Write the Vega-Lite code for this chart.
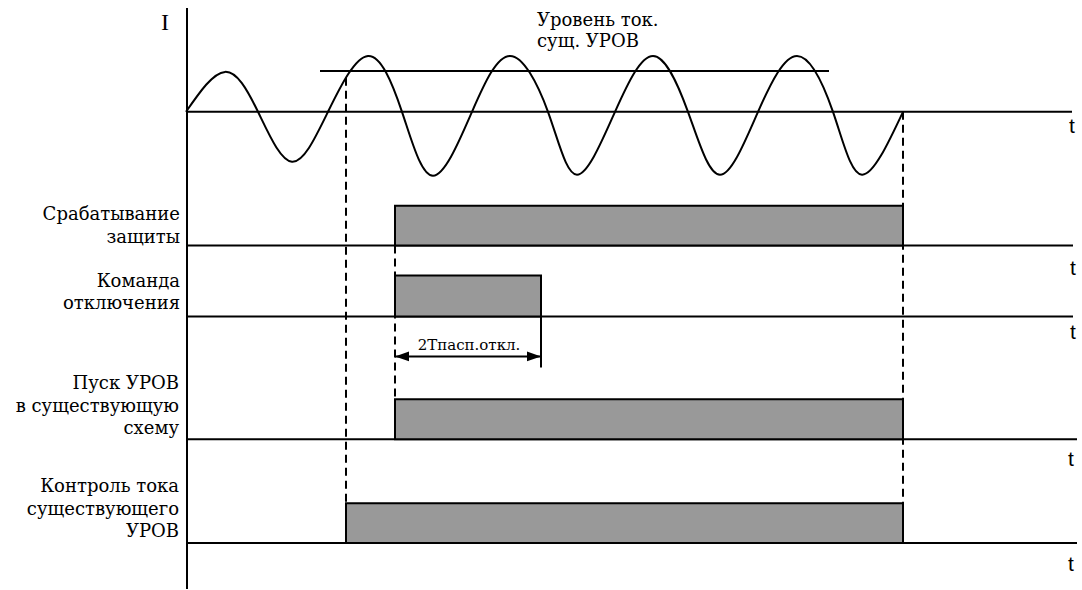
{
  "$schema": "https://vega.github.io/schema/vega-lite/v6.json",
  "width": 1082,
  "height": 590,
  "autosize": {"type": "fit", "contains": "padding"},
  "padding": 0,
  "background": "white",
  "config": {"view": {"stroke": null}},
  "datasets": {
    "axisV": [{"x": 187, "y": 8, "y2": 590}],
    "hlines": [
      {"x": 186, "x2": 1072, "y": 112},
      {"x": 186, "x2": 1073, "y": 246},
      {"x": 186, "x2": 1073, "y": 317},
      {"x": 186, "x2": 1077, "y": 440},
      {"x": 186, "x2": 1077, "y": 544}
    ],
    "level": [{"x": 320, "x2": 829, "y": 71}],
    "dashed": [
      {"x": 346, "y": 78, "y2": 504},
      {"x": 903, "y": 112, "y2": 504},
      {"x": 395, "y": 246, "y2": 400}
    ],
    "bars": [
      {"signal": "Срабатывание защиты", "x": 395, "x2": 903, "y": 206, "y2": 246},
      {"signal": "Команда отключения", "x": 395, "x2": 541, "y": 276, "y2": 317},
      {"signal": "Пуск УРОВ", "x": 395, "x2": 903, "y": 400, "y2": 440},
      {"signal": "Контроль тока", "x": 346, "x2": 903, "y": 504, "y2": 544}
    ],
    "wave": [
      {"x": 186, "y": 112}, {"x": 225, "y": 72}, {"x": 258, "y": 112}, {"x": 292, "y": 162},
      {"x": 328, "y": 112}, {"x": 368, "y": 56}, {"x": 402, "y": 112}, {"x": 433, "y": 176},
      {"x": 472, "y": 112}, {"x": 510, "y": 56}, {"x": 548, "y": 112}, {"x": 577, "y": 175},
      {"x": 615, "y": 112}, {"x": 653, "y": 56}, {"x": 688, "y": 112}, {"x": 720, "y": 175},
      {"x": 758, "y": 112}, {"x": 797, "y": 56}, {"x": 833, "y": 112}, {"x": 862, "y": 175},
      {"x": 903, "y": 112}
    ],
    "span": [{"x": 395, "x2": 541, "y": 357}],
    "tick": [{"x": 541, "y": 317, "y2": 368}],
    "arrowL": [{"x": 395, "y": 357}],
    "arrowR": [{"x": 541, "y": 357}],
    "labels": [
      {"x": 180, "y": 220, "text": "Срабатывание"},
      {"x": 180, "y": 243, "text": "защиты"},
      {"x": 180, "y": 287, "text": "Команда"},
      {"x": 180, "y": 310, "text": "отключения"},
      {"x": 179, "y": 390, "text": "Пуск УРОВ"},
      {"x": 179, "y": 413, "text": "в существующую"},
      {"x": 179, "y": 435, "text": "схему"},
      {"x": 179, "y": 493, "text": "Контроль тока"},
      {"x": 179, "y": 516, "text": "существующего"},
      {"x": 179, "y": 538, "text": "УРОВ"}
    ],
    "tlabels": [
      {"x": 1072, "y": 133, "text": "t"},
      {"x": 1073, "y": 275, "text": "t"},
      {"x": 1073, "y": 340, "text": "t"},
      {"x": 1071, "y": 467, "text": "t"},
      {"x": 1071, "y": 572, "text": "t"}
    ],
    "heading": [
      {"x": 537, "y": 26, "text": "Уровень ток."},
      {"x": 537, "y": 47, "text": "сущ. УРОВ"}
    ],
    "ilabel": [{"x": 165, "y": 30, "text": "I"}],
    "dur": [{"x": 469, "y": 351, "text": "2Тпасп.откл."}]
  },
  "encoding": {
    "x": {"field": "x", "type": "quantitative", "axis": null, "scale": {"domain": [0, 1082], "nice": false, "zero": false}},
    "y": {"field": "y", "type": "quantitative", "axis": null, "scale": {"domain": [0, 590], "reverse": true, "nice": false, "zero": false}}
  },
  "layer": [
    {"data": {"name": "axisV"}, "mark": {"type": "rule", "color": "black", "strokeWidth": 2}, "encoding": {"y2": {"field": "y2"}}},
    {"data": {"name": "hlines"}, "mark": {"type": "rule", "color": "black", "strokeWidth": 2}, "encoding": {"x2": {"field": "x2"}}},
    {"data": {"name": "level"}, "mark": {"type": "rule", "color": "black", "strokeWidth": 2}, "encoding": {"x2": {"field": "x2"}}},
    {"data": {"name": "dashed"}, "mark": {"type": "rule", "color": "black", "strokeWidth": 2, "strokeDash": [8, 5]}, "encoding": {"y2": {"field": "y2"}}},
    {"data": {"name": "bars"}, "mark": {"type": "rect", "fill": "#999999", "stroke": "black", "strokeWidth": 2}, "encoding": {"x2": {"field": "x2"}, "y2": {"field": "y2"}}},
    {"data": {"name": "wave"}, "mark": {"type": "line", "color": "black", "strokeWidth": 2, "interpolate": "natural"}, "encoding": {}},
    {"data": {"name": "span"}, "mark": {"type": "rule", "color": "black", "strokeWidth": 2}, "encoding": {"x2": {"field": "x2"}}},
    {"data": {"name": "tick"}, "mark": {"type": "rule", "color": "black", "strokeWidth": 2}, "encoding": {"y2": {"field": "y2"}}},
    {"data": {"name": "arrowL"}, "mark": {"type": "point", "shape": "M0,0L2,-0.7L2,0.7Z", "size": 196, "filled": true, "color": "black", "opacity": 1}, "encoding": {}},
    {"data": {"name": "arrowR"}, "mark": {"type": "point", "shape": "M0,0L-2,-0.7L-2,0.7Z", "size": 196, "filled": true, "color": "black", "opacity": 1}, "encoding": {}},
    {"data": {"name": "labels"}, "mark": {"type": "text", "align": "right", "baseline": "alphabetic", "font": "DejaVu Serif", "fontSize": 18, "color": "black"}, "encoding": {"text": {"field": "text"}}},
    {"data": {"name": "tlabels"}, "mark": {"type": "text", "align": "center", "baseline": "alphabetic", "font": "Liberation Sans", "fontSize": 21, "color": "black"}, "encoding": {"text": {"field": "text"}}},
    {"data": {"name": "heading"}, "mark": {"type": "text", "align": "left", "baseline": "alphabetic", "font": "DejaVu Serif", "fontSize": 18, "color": "black"}, "encoding": {"text": {"field": "text"}}},
    {"data": {"name": "ilabel"}, "mark": {"type": "text", "align": "center", "baseline": "alphabetic", "font": "Liberation Serif", "fontSize": 24, "color": "black"}, "encoding": {"text": {"field": "text"}}},
    {"data": {"name": "dur"}, "mark": {"type": "text", "align": "center", "baseline": "alphabetic", "font": "DejaVu Serif", "fontSize": 15, "color": "black"}, "encoding": {"text": {"field": "text"}}}
  ]
}
